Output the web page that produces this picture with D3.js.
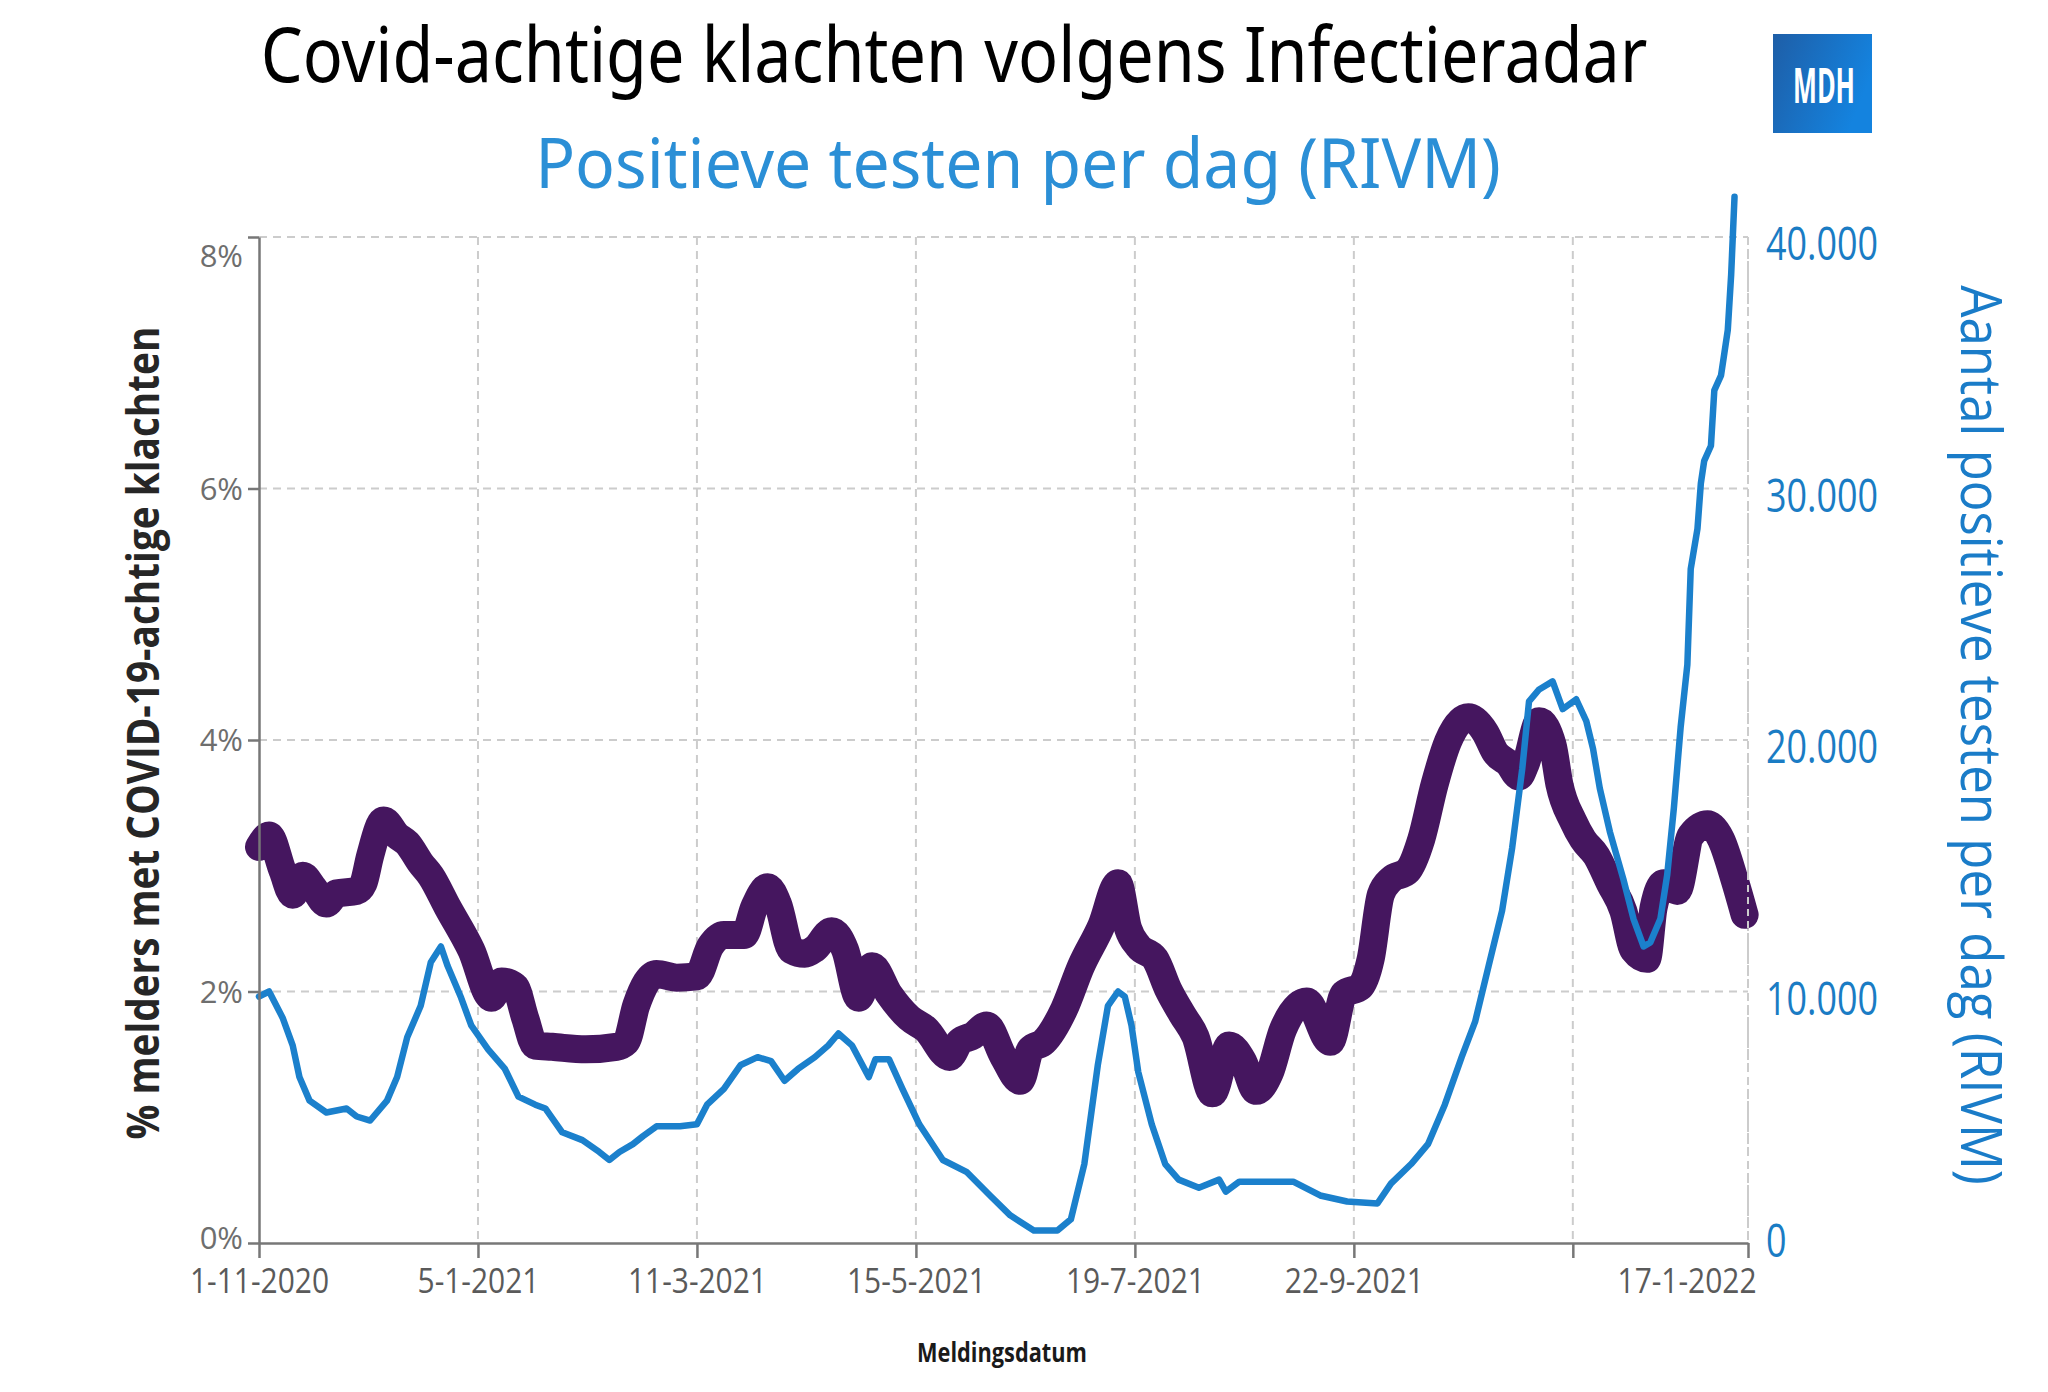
<!DOCTYPE html>
<html>
<head>
<meta charset="utf-8">
<script src="https://cdn.jsdelivr.net/npm/d3@7"></script>
<style>
  html, body { margin: 0; padding: 0; background: #ffffff; }
  svg { display: block; }
</style>
</head>
<body>
<svg id="chart" width="2048" height="1392"></svg>
<script>
// ---------- DATA ----------
const titleText = "Covid-achtige klachten volgens Infectieradar";
const subtitleText = "Positieve testen per dag (RIVM)";
const leftAxisTitle = "% melders met COVID-19-achtige klachten";
const rightAxisTitle = "Aantal positieve testen per dag (RIVM)";
const xAxisTitle = "Meldingsdatum";
const logoText = "MDH";

const xDomain = ["2020-11-01", "2022-01-17"];
const xTickDates = ["2020-11-01", "2021-01-05", "2021-03-11", "2021-05-15", "2021-07-19", "2021-09-22", "2021-11-26", "2022-01-17"];
const xTickLabels = ["1-11-2020", "5-1-2021", "11-3-2021", "15-5-2021", "19-7-2021", "22-9-2021", "", "17-1-2022"];
const leftTicks = [0, 2, 4, 6, 8];
const rightTicks = [0, 10000, 20000, 30000, 40000];

// Infectieradar: % melders met COVID-19-achtige klachten
const radarDates = ["2020-11-01","2020-11-04","2020-11-08","2020-11-11","2020-11-14","2020-11-17","2020-11-21","2020-11-24","2020-11-30","2020-12-02","2020-12-04","2020-12-08","2020-12-12","2020-12-15","2020-12-19","2020-12-22","2020-12-27","2021-01-03","2021-01-09","2021-01-12","2021-01-16","2021-01-19","2021-01-22","2021-01-27","2021-02-06","2021-02-15","2021-02-18","2021-02-21","2021-02-27","2021-03-05","2021-03-11","2021-03-15","2021-03-19","2021-03-25","2021-03-28","2021-04-01","2021-04-04","2021-04-08","2021-04-12","2021-04-15","2021-04-20","2021-04-24","2021-04-28","2021-05-02","2021-05-07","2021-05-13","2021-05-18","2021-05-25","2021-05-28","2021-06-01","2021-06-05","2021-06-10","2021-06-15","2021-06-18","2021-06-22","2021-06-28","2021-07-03","2021-07-09","2021-07-14","2021-07-17","2021-07-20","2021-07-25","2021-07-29","2021-08-02","2021-08-06","2021-08-11","2021-08-16","2021-08-20","2021-08-24","2021-08-28","2021-09-01","2021-09-08","2021-09-15","2021-09-19","2021-09-24","2021-09-27","2021-09-30","2021-10-03","2021-10-08","2021-10-12","2021-10-16","2021-10-20","2021-10-26","2021-10-31","2021-11-03","2021-11-07","2021-11-10","2021-11-12","2021-11-16","2021-11-20","2021-11-22","2021-11-26","2021-11-29","2021-12-03","2021-12-07","2021-12-11","2021-12-14","2021-12-18","2021-12-20","2021-12-23","2021-12-27","2021-12-31","2022-01-05","2022-01-09","2022-01-13","2022-01-16"];
const radarValues = [3.15,3.24,2.96,2.77,2.92,2.83,2.70,2.78,2.80,2.86,3.08,3.36,3.24,3.18,3.02,2.92,2.67,2.33,1.95,2.08,2.04,1.79,1.57,1.56,1.54,1.56,1.60,1.89,2.14,2.11,2.12,2.36,2.45,2.45,2.67,2.83,2.70,2.33,2.30,2.34,2.48,2.33,1.95,2.20,1.98,1.79,1.70,1.48,1.60,1.65,1.73,1.48,1.29,1.54,1.60,1.86,2.20,2.52,2.86,2.50,2.36,2.26,2.01,1.82,1.64,1.19,1.57,1.45,1.21,1.35,1.70,1.92,1.60,1.98,2.04,2.26,2.77,2.89,2.96,3.21,3.65,3.99,4.18,4.06,3.90,3.81,3.71,3.81,4.15,3.96,3.65,3.36,3.21,3.08,2.86,2.64,2.33,2.26,2.67,2.86,2.80,3.24,3.33,3.21,2.89,2.61];

// RIVM: positieve testen per dag
const rivmDates = ["2020-11-01","2020-11-04","2020-11-08","2020-11-11","2020-11-13","2020-11-16","2020-11-21","2020-11-27","2020-11-30","2020-12-04","2020-12-09","2020-12-12","2020-12-15","2020-12-19","2020-12-22","2020-12-25","2020-12-27","2020-12-31","2021-01-03","2021-01-08","2021-01-13","2021-01-17","2021-01-22","2021-01-25","2021-01-30","2021-02-05","2021-02-10","2021-02-13","2021-02-16","2021-02-20","2021-02-23","2021-02-27","2021-03-06","2021-03-11","2021-03-14","2021-03-19","2021-03-24","2021-03-29","2021-04-02","2021-04-06","2021-04-10","2021-04-15","2021-04-19","2021-04-22","2021-04-26","2021-05-01","2021-05-03","2021-05-07","2021-05-11","2021-05-16","2021-05-23","2021-05-30","2021-06-06","2021-06-12","2021-06-19","2021-06-26","2021-06-30","2021-07-04","2021-07-08","2021-07-11","2021-07-14","2021-07-16","2021-07-18","2021-07-20","2021-07-24","2021-07-28","2021-08-01","2021-08-07","2021-08-13","2021-08-15","2021-08-19","2021-09-04","2021-09-12","2021-09-20","2021-09-29","2021-10-03","2021-10-09","2021-10-14","2021-10-19","2021-10-24","2021-10-28","2021-11-01","2021-11-05","2021-11-08","2021-11-11","2021-11-13","2021-11-16","2021-11-20","2021-11-23","2021-11-27","2021-11-30","2021-12-02","2021-12-04","2021-12-07","2021-12-11","2021-12-14","2021-12-17","2021-12-19","2021-12-22","2021-12-24","2021-12-26","2021-12-28","2021-12-30","2021-12-31","2022-01-02","2022-01-03","2022-01-04","2022-01-06","2022-01-07","2022-01-09","2022-01-10","2022-01-11","2022-01-12","2022-01-13"];
const rivmValues = [9800,10000,8960,7860,6600,5660,5190,5350,5030,4870,5660,6600,8180,9430,11160,11790,11010,9750,8650,7700,6920,5820,5500,5350,4400,4090,3620,3300,3620,3930,4250,4640,4640,4720,5500,6130,7080,7390,7230,6450,6920,7390,7860,8330,7860,6600,7310,7310,6130,4720,3300,2830,1890,1100,500,500,940,3140,7080,9430,10000,9800,8650,6800,4720,3140,2520,2200,2520,2040,2440,2440,1890,1650,1570,2360,3140,3930,5500,7390,8800,11010,13210,15720,18870,21540,22010,22330,21230,21620,20750,19650,18080,16350,14470,12890,11790,11950,12890,14620,17300,20500,23000,26800,28400,30200,31100,31700,33900,34500,35400,36300,38500,41600];

// ---------- CHART ----------
const svg = d3.select("#chart");
const parse = d3.timeParse("%Y-%m-%d");
const nl = d3.formatLocale({decimal: ",", thousands: ".", grouping: [3], currency: ["€", ""]});
const fmtThousands = nl.format(",d");

const x = d3.scaleTime().domain(xDomain.map(parse)).range([259, 1748]);
const yL = d3.scaleLinear().domain([0, 8]).range([1243, 237]);
const yR = d3.scaleLinear().domain([0, 40000]).range([1243, 237]);

const gridColor = "#cccccc";
const purple = "#45165f";
const blue = "#1b80cc";

// place a text at (tx, ty), optionally rotated, squeezed horizontally to a target width
function fitText(parent, str, tx, ty, rot, targetW, attrs) {
  const g = parent.append("g").attr("transform", `translate(${tx},${ty}) rotate(${rot})`);
  const t = g.append("text").text(str);
  Object.entries(attrs).forEach(([k, v]) => t.attr(k, v));
  const w = t.node().getComputedTextLength();
  t.attr("transform", `scale(${targetW / w},1)`);
  return t;
}

// gridlines
const grid = svg.append("g");
grid.selectAll("line.h").data(leftTicks.filter(d => d > 0)).join("line")
  .attr("x1", x.range()[0]).attr("x2", x.range()[1])
  .attr("y1", d => yL(d)).attr("y2", d => yL(d))
  .attr("stroke", gridColor).attr("stroke-width", 2).attr("stroke-dasharray", "8,6");
grid.selectAll("line.v").data(xTickDates.slice(1)).join("line")
  .attr("x1", d => x(parse(d))).attr("x2", d => x(parse(d)))
  .attr("y1", yL(8)).attr("y2", yL(0))
  .attr("stroke", gridColor).attr("stroke-width", 2).attr("stroke-dasharray", "8,6");

// lines
const radar = radarDates.map((d, i) => ({date: parse(d), v: radarValues[i]}));
const rivm = rivmDates.map((d, i) => ({date: parse(d), v: rivmValues[i]}));

svg.append("path").datum(radar)
  .attr("fill", "none").attr("stroke", purple).attr("stroke-width", 28)
  .attr("stroke-linejoin", "round").attr("stroke-linecap", "round")
  .attr("d", d3.line().x(d => x(d.date)).y(d => yL(d.v)).curve(d3.curveMonotoneX));

svg.append("path").datum(rivm)
  .attr("fill", "none").attr("stroke", blue).attr("stroke-width", 6.5)
  .attr("stroke-linejoin", "round").attr("stroke-linecap", "round")
  .attr("d", d3.line().x(d => x(d.date)).y(d => yR(d.v)));

// x axis
const xAxis = svg.append("g").attr("transform", `translate(0,${yL(0)})`)
  .call(d3.axisBottom(x).tickValues(xTickDates.map(parse))
    .tickFormat((d, i) => xTickLabels[i]).tickSize(15).tickSizeOuter(0).tickPadding(11));
xAxis.select(".domain").attr("stroke", "#777").attr("stroke-width", 2.5);
xAxis.selectAll(".tick line").attr("stroke", "#777").attr("stroke-width", 2.5);
const last = xTickLabels.length - 1;
xAxis.selectAll(".tick text")
  .attr("font-family", "'Open Sans', sans-serif").attr("font-size", 34).attr("fill", "#5a5a5a")
  .attr("dy", "0.72em").attr("x", 0)
  .attr("text-anchor", (d, i) => i === last ? "end" : "middle")
  .attr("transform", (d, i) => (i === last ? "translate(8,0) " : "") + "scale(0.88,1)");

// left axis
const yAxis = svg.append("g").attr("transform", `translate(${x.range()[0]},0)`)
  .call(d3.axisLeft(yL).tickValues(leftTicks).tickFormat(d => d + "%").tickSize(11).tickSizeOuter(0).tickPadding(5));
yAxis.select(".domain").attr("stroke", "#777").attr("stroke-width", 2.5);
yAxis.selectAll(".tick line").attr("stroke", "#777").attr("stroke-width", 2.5);
yAxis.selectAll(".tick text")
  .attr("font-family", "'Open Sans', sans-serif").attr("font-size", 31).attr("fill", "#6e6e6e")
  .attr("dy", d => d === 8 ? "0.95em" : (d === 0 ? "0.18em" : "0.35em"));

// right axis boundary + labels
svg.append("line")
  .attr("x1", x.range()[1]).attr("x2", x.range()[1]).attr("y1", yR(40000)).attr("y2", yR(0))
  .attr("stroke", gridColor).attr("stroke-width", 2).attr("stroke-dasharray", "7,5");
const rG = svg.append("g");
rightTicks.forEach(d => {
  rG.append("text")
    .attr("transform", `translate(1766,${yR(d)}) scale(0.78,1)`)
    .attr("dy", d === 0 ? "0.3em" : "0.5em")
    .attr("font-family", "'Open Sans', sans-serif").attr("font-size", 46).attr("fill", "#1a7cc4")
    .text(fmtThousands(d));
});

// titles
fitText(svg, titleText, 954, 82, 0, 1387, {
  "text-anchor": "middle", "font-family": "'Noto Sans', sans-serif", "font-size": 76, "fill": "#000"});
fitText(svg, subtitleText, 1018, 188, 0, 966, {
  "text-anchor": "middle", "font-family": "'Noto Sans', sans-serif", "font-size": 70, "fill": "#2b8fd6"});

// axis titles
fitText(svg, leftAxisTitle, 159, 733, -90, 813, {
  "text-anchor": "middle", "font-family": "'Open Sans', sans-serif", "font-weight": 700, "font-size": 44, "fill": "#262626"});
fitText(svg, rightAxisTitle, 1961, 735, 90, 900, {
  "text-anchor": "middle", "font-family": "'Open Sans', sans-serif", "font-size": 57, "fill": "#1a7cc8"});
fitText(svg, xAxisTitle, 1002, 1362, 0, 170, {
  "text-anchor": "middle", "font-family": "'Open Sans', sans-serif", "font-weight": 700, "font-size": 27, "fill": "#1a1a1a"});

// logo
const defs = svg.append("defs");
const grad = defs.append("linearGradient").attr("id", "logoGrad").attr("x1", "0").attr("y1", "0").attr("x2", "1").attr("y2", "0.4");
grad.append("stop").attr("offset", "0%").attr("stop-color", "#1e5ea7");
grad.append("stop").attr("offset", "100%").attr("stop-color", "#1483df");
svg.append("rect").attr("x", 1773).attr("y", 34).attr("width", 99).attr("height", 99).attr("fill", "url(#logoGrad)");
fitText(svg, logoText, 1824, 103, 0, 62, {
  "text-anchor": "middle", "font-family": "'Open Sans', sans-serif", "font-weight": 700, "font-size": 48, "fill": "#ffffff"});
</script>
</body>
</html>
